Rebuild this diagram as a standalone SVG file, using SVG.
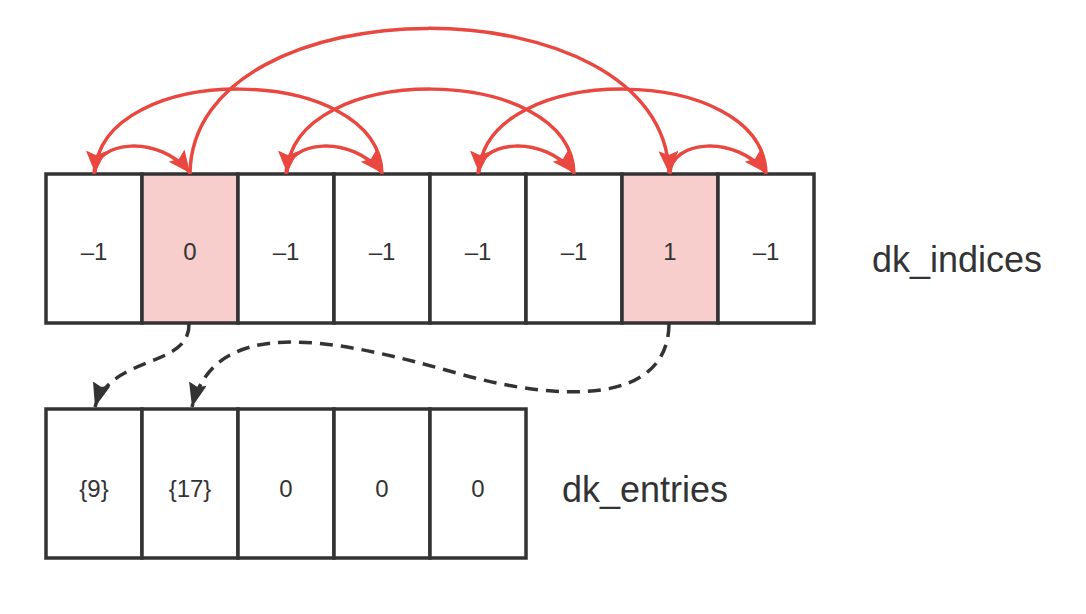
<svg xmlns="http://www.w3.org/2000/svg" width="1086" height="614" viewBox="0 0 1086 614">
<defs>
<style>
.cell{fill:#ffffff;stroke:#333333;stroke-width:3.5}
.hl{fill:#f8cecc}
.t{font-family:"Liberation Sans",Arial,sans-serif;font-size:24px;fill:#333333;text-anchor:middle}
.lbl{font-family:"Liberation Sans",Arial,sans-serif;font-size:36px;fill:#333333}
.red{fill:none;stroke:#e9473f;stroke-width:3.5}
.dash{fill:none;stroke:#333333;stroke-width:3.5;stroke-dasharray:13 8}
</style>
<marker id="ar" markerUnits="userSpaceOnUse" markerWidth="24" markerHeight="22" refX="22" refY="10" orient="auto">
<path d="M0,0 L22,10 L0,20 L4,10 Z" fill="#e9473f"/>
</marker>
<marker id="ab" markerUnits="userSpaceOnUse" markerWidth="26" markerHeight="20" refX="24" refY="9" orient="auto">
<path d="M0,0 L24,9 L0,18 L3,9 Z" fill="#333333"/>
</marker>
</defs>
<rect width="1086" height="614" fill="#ffffff"/>

<g id="indices">
<g id="i0"><rect class="cell" x="46" y="174" width="96" height="149"/><text class="t" x="94" y="260">–1</text></g>
<g id="i1"><rect class="cell hl" x="142" y="174" width="96" height="149"/><text class="t" x="190" y="260">0</text></g>
<g id="i2"><rect class="cell" x="238" y="174" width="96" height="149"/><text class="t" x="286" y="260">–1</text></g>
<g id="i3"><rect class="cell" x="334" y="174" width="96" height="149"/><text class="t" x="382" y="260">–1</text></g>
<g id="i4"><rect class="cell" x="430" y="174" width="96" height="149"/><text class="t" x="478" y="260">–1</text></g>
<g id="i5"><rect class="cell" x="526" y="174" width="96" height="149"/><text class="t" x="574" y="260">–1</text></g>
<g id="i6"><rect class="cell hl" x="622" y="174" width="96" height="149"/><text class="t" x="670" y="260">1</text></g>
<g id="i7"><rect class="cell" x="718" y="174" width="96" height="149"/><text class="t" x="766" y="260">–1</text></g>
</g>
<g id="label-indices"><text class="lbl" x="872" y="272">dk_indices</text></g>

<g id="entries">
<g id="e0"><rect class="cell" x="46" y="409" width="96" height="149"/><text class="t" x="94" y="497">{9}</text></g>
<g id="e1"><rect class="cell" x="142" y="409" width="96" height="149"/><text class="t" x="190" y="497">{17}</text></g>
<g id="e2"><rect class="cell" x="238" y="409" width="96" height="149"/><text class="t" x="286" y="497">0</text></g>
<g id="e3"><rect class="cell" x="334" y="409" width="96" height="149"/><text class="t" x="382" y="497">0</text></g>
<g id="e4"><rect class="cell" x="430" y="409" width="96" height="149"/><text class="t" x="478" y="497">0</text></g>
</g>
<g id="label-entries"><text class="lbl" x="562" y="502">dk_entries</text></g>

<g id="connectors">
<path class="red" marker-end="url(#ar)" d="M94,174 C94,140 160,134 190,173"/>
<path class="red" marker-end="url(#ar)" d="M286,174 C286,140 352,134 382,173"/>
<path class="red" marker-end="url(#ar)" d="M478,174 C478,140 544,134 574,173"/>
<path class="red" marker-end="url(#ar)" d="M670,174 C670,140 736,134 766,173"/>
<path class="red" marker-end="url(#ar)" d="M382,174 C380,62 100,60 95,173"/>
<path class="red" marker-end="url(#ar)" d="M574,174 C572,62 292,60 287,173"/>
<path class="red" marker-end="url(#ar)" d="M766,174 C764,62 484,60 479,173"/>
<path class="red" marker-end="url(#ar)" d="M190,174 C192,-20 664,-20 669,173"/>
<path class="dash" marker-end="url(#ab)" d="M189,324 C190,368 110,355 95,407"/>
<path class="dash" marker-end="url(#ab)" d="M669,324 C668,405 560,402 460,374 C330,337 215,315 192,407"/>
</g>
</svg>
